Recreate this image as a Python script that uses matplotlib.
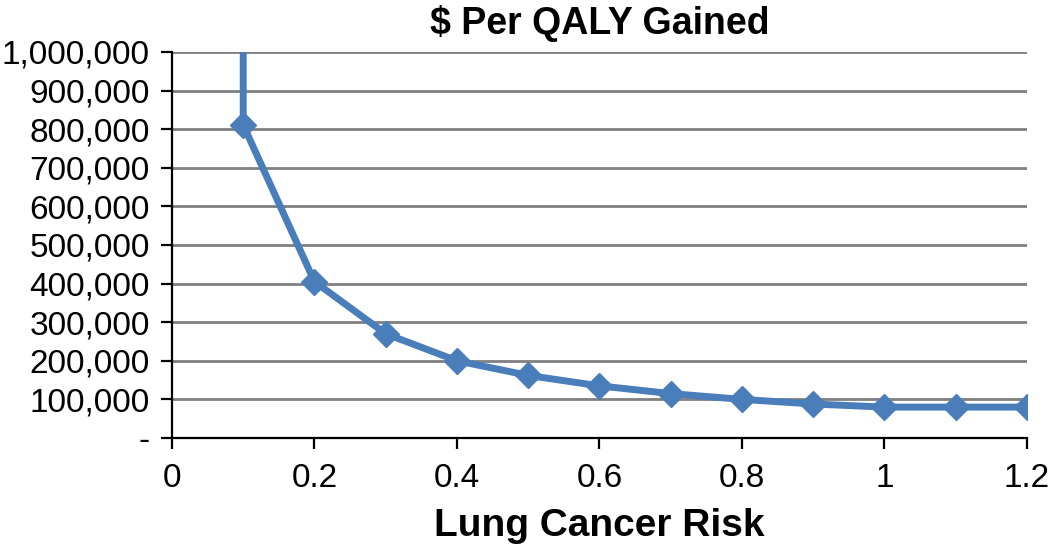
import matplotlib.pyplot as plt
from matplotlib.ticker import FuncFormatter, MultipleLocator

plt.rcParams['font.family'] = ['Liberation Sans', 'DejaVu Sans']

# lung cancer risk vs cost per QALY gained
risk = [0.1, 0.1, 0.2, 0.3, 0.4, 0.5, 0.6, 0.7, 0.8, 0.9, 1.0, 1.1, 1.2]
cost = [2500000, 811000, 405000, 270000, 200000, 162000, 135000, 115000,
        100000, 88000, 80000, 80000, 80000]

fig = plt.figure(figsize=(10.5, 5.53), dpi=100)
ax = fig.add_axes([0.1638, 0.208, 0.8142, 0.698])

ax.plot(risk, cost, color='#4a7ebb', lw=5, marker='D', ms=13,
        markeredgecolor='#4a7ebb', zorder=3, clip_on=True)

ax.set_xlim(0, 1.2)
ax.set_ylim(0, 1000000)
ax.xaxis.set_major_locator(MultipleLocator(0.2))
ax.yaxis.set_major_locator(MultipleLocator(100000))

ax.yaxis.set_major_formatter(FuncFormatter(lambda v, p: '-' if v == 0 else f'{int(v):,}'))
ax.xaxis.set_major_formatter(FuncFormatter(lambda v, p: f'{round(v, 1):g}'))

ax.grid(axis='y', color='#808080', lw=2)
ax.set_axisbelow(True)
for s in ['top', 'right']:
    ax.spines[s].set_visible(False)
for s in ['left', 'bottom']:
    ax.spines[s].set_linewidth(1.6)
    ax.spines[s].set_zorder(4)

ax.tick_params(axis='both', direction='out', length=8, width=1.6, labelsize=24,
               colors='black')
ax.tick_params(axis='x', pad=10)
ax.tick_params(axis='y', pad=8)

ax.set_title('$ Per QALY Gained', fontsize=27, fontweight='bold', pad=13)
ax.set_xlabel('Lung Cancer Risk', fontsize=28, fontweight='bold', labelpad=10)

fig.savefig('out.png', dpi=100)
